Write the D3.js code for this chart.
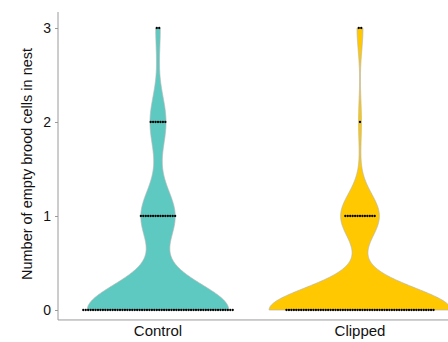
<!DOCTYPE html>
<html>
<head>
<meta charset="utf-8">
<script src="https://cdn.jsdelivr.net/npm/d3@7"></script>
<style>
  html, body { margin: 0; padding: 0; background: #fff; }
  svg { display: block; font-family: "Liberation Sans", Arial, sans-serif; }
</style>
</head>
<body>
<svg id="chart" width="448" height="342"></svg>
<script>
// Treatment groups and the number of nests at each count of empty brood cells
const groups = ["Control", "Clipped"];
const levels = [0, 1, 2, 3];
const controlCounts = [62, 15, 7, 2];
const clippedCounts = [61, 13, 1, 2];
const yTicks = [0, 1, 2, 3];
const fills = ["#5ec9c1", "#ffc800"];

const countsByGroup = [controlCounts, clippedCounts];

const svg = d3.select("#chart");

const y = d3.scaleLinear().domain([0, 3]).range([310, 28]);
const x = d3.scalePoint().domain(groups).range([158, 360]);
const axisLeft = 58;
const axisBottom = y(-0.106);
const axisTop = y(3.17);

// Expand the counts into individual observations
function expand(counts) {
  const out = [];
  counts.forEach((c, i) => { for (let k = 0; k < c; k++) out.push(levels[i]); });
  return out;
}

// Silverman's rule of thumb (as in R's bw.nrd0)
function bwNrd0(v) {
  const s = d3.deviation(v);
  const iqr = d3.quantile(v, 0.75) - d3.quantile(v, 0.25);
  let lo = Math.min(s, iqr / 1.34);
  if (!lo) lo = s || 1;
  return 0.9 * lo * Math.pow(v.length, -0.2);
}

function kde(v, bw, grid) {
  const n = v.length, c = 1 / (bw * Math.sqrt(2 * Math.PI));
  return grid.map(t => {
    let s = 0;
    for (const xi of v) { const u = (t - xi) / bw; s += Math.exp(-0.5 * u * u); }
    return [t, c * s / n];
  });
}

const grid = d3.range(0, 3.0001, 3 / 511);
const densities = countsByGroup.map(counts => {
  const v = expand(counts).sort(d3.ascending);
  return kde(v, bwNrd0(v), grid);
});
const maxD = d3.max(densities, d => d3.max(d, p => p[1]));
const halfMax = 0.9 * x.step() / 2;
const w = d3.scaleLinear().domain([0, maxD]).range([0, halfMax]);

// Violins
groups.forEach((g, i) => {
  const cx = x(g);
  const area = d3.area()
    .y(p => y(p[0]))
    .x0(p => cx - w(p[1]))
    .x1(p => cx + w(p[1]))
    .curve(d3.curveLinear);
  svg.append("path")
    .datum(densities[i])
    .attr("d", area)
    .attr("fill", fills[i])
    .attr("stroke", "#b5b5b5")
    .attr("stroke-width", 0.7);
});

// Dots: one per nest, laid out in a row at each level
const dotStep = 2.45;
groups.forEach((g, i) => {
  const cx = x(g);
  const pts = [];
  countsByGroup[i].forEach((c, li) => {
    for (let k = 0; k < c; k++) {
      pts.push({ x: cx + (k - (c - 1) / 2) * dotStep, v: levels[li] });
    }
  });
  svg.append("g").selectAll("circle")
    .data(pts)
    .join("circle")
    .attr("cx", d => d.x)
    .attr("cy", d => y(d.v))
    .attr("r", 1.15)
    .attr("fill", "#000");
});

// Axes
svg.append("line")
  .attr("x1", axisLeft).attr("x2", axisLeft)
  .attr("y1", axisTop).attr("y2", axisBottom)
  .attr("stroke", "#9a9a9a").attr("stroke-width", 1);
svg.append("line")
  .attr("x1", axisLeft).attr("x2", 448)
  .attr("y1", axisBottom).attr("y2", axisBottom)
  .attr("stroke", "#9a9a9a").attr("stroke-width", 1);

const yAxis = d3.axisLeft(y).tickValues(yTicks).tickFormat(d3.format("d")).tickSize(3).tickPadding(4);
const ya = svg.append("g").attr("transform", `translate(${axisLeft},0)`).call(yAxis);
ya.select(".domain").remove();
ya.selectAll(".tick line").attr("stroke", "#9a9a9a");
ya.selectAll(".tick text").attr("fill", "#111").style("font-size", "14px")
  .style("font-family", "'Liberation Sans', Arial, sans-serif");

svg.append("g").selectAll("text")
  .data(groups)
  .join("text")
  .attr("x", d => x(d))
  .attr("y", 336)
  .attr("text-anchor", "middle")
  .attr("fill", "#111")
  .style("font-size", "15px")
  .text(d => d);

svg.append("text")
  .attr("transform", `translate(32,164) rotate(-90)`)
  .attr("text-anchor", "middle")
  .attr("fill", "#111")
  .style("font-size", "14.5px")
  .text("Number of empty brood cells in nest");
</script>
</body>
</html>
